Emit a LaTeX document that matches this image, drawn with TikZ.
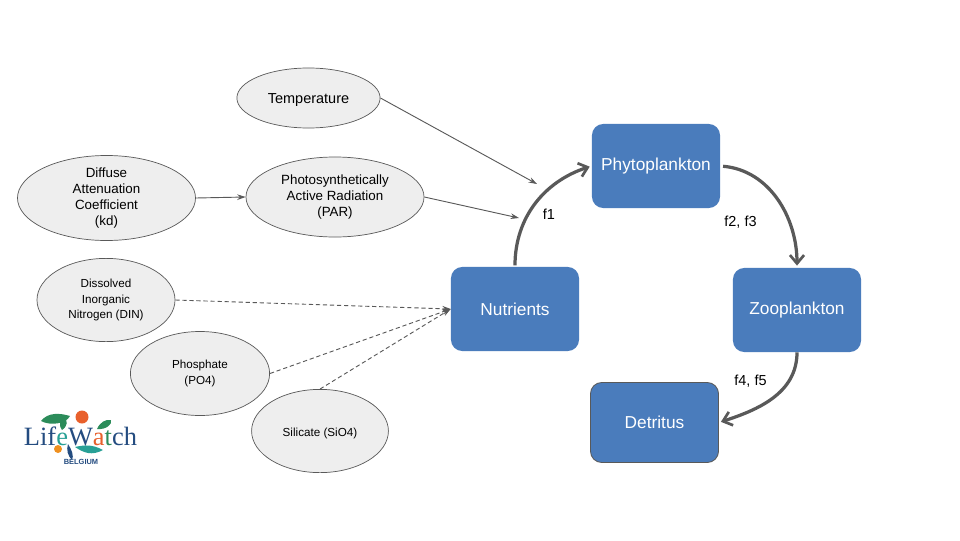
\documentclass[tikz,border=0pt]{standalone}
\usepackage{fontspec}
\setmainfont{Liberation Sans}
\newfontfamily\logofont{Liberation Serif}
\usepackage{xcolor}
\usetikzlibrary{arrows.meta,positioning,shapes.geometric}
\definecolor{boxc}{RGB}{74,124,188}
\definecolor{ovalc}{RGB}{238,238,238}
\definecolor{edgec}{RGB}{89,89,89}
\definecolor{logoblue}{RGB}{36,76,128}
\definecolor{logogreen}{RGB}{44,140,90}
\definecolor{logoteal}{RGB}{40,160,150}
\definecolor{logoorange}{RGB}{232,96,44}
\tikzset{
  oval/.style={ellipse,draw=edgec,fill=ovalc,inner sep=0pt,align=center,text=black,line width=0.5pt,
    execute at begin node={\rule{0pt}{10pt}}},
  stock/.style={draw=none,fill=boxc,rounded corners=8pt,text=white,font=\fontsize{12.3}{14}\selectfont,
    minimum width=3.2cm,minimum height=2.1cm,inner sep=0pt},
  flow/.style={-{Straight Barb[length=6pt,width=10pt,line width=1.9pt]},edgec,line width=2.3pt,shorten >=1.5pt},
  forcing/.style={-{Stealth[length=6pt,width=4pt]},edgec,line width=0.65pt},
  limit/.style={forcing,dashed,dash pattern=on 3pt off 2pt},
  lab/.style={font=\fontsize{10.3}{12}\selectfont,text=black}
}
\begin{document}
\begin{tikzpicture}[x=0.025cm,y=-0.025cm,font=\fontsize{9.5}{11.3}\selectfont]
\useasboundingbox (0,0) rectangle (960,540);
\fill[white] (0,0) rectangle (960,540);
% forcing variables
\node[oval,minimum width=3.58cm,minimum height=1.5cm,font=\fontsize{10.3}{12}\selectfont] (temp) at (308.5,98) {Temperature};
\node[oval,minimum width=4.45cm,minimum height=2.02cm] (kd) at (106.5,198) {Diffuse\\Attenuation\\Coefficient\\(kd)};
\node[oval,minimum width=4.45cm,minimum height=2cm] (par) at (335,197) {Photosynthetically\\Active Radiation\\(PAR)};
% nutrients forcing
\node[oval,minimum width=3.45cm,minimum height=2.08cm,font=\fontsize{8.3}{11.3}\selectfont] (din) at (106,300) {Dissolved\\Inorganic\\Nitrogen (DIN)};
\node[oval,minimum width=3.48cm,minimum height=2.1cm,font=\fontsize{8.3}{11.3}\selectfont] (po4) at (200,373.5) {Phosphate\\(PO4)};
\node[oval,minimum width=3.42cm,minimum height=2.08cm,font=\fontsize{8.3}{11.3}\selectfont] (sio4) at (320,431) {Silicate (SiO4)};
% state variables
\node[stock] (phy) at (656,166) {Phytoplankton};
\node[stock] (nut) at (515,309) {Nutrients};
\node[stock] (zoo) at (797,310) {Zooplankton};
\node[stock,draw=edgec,line width=0.6pt,minimum width=3.2cm,minimum height=2cm] (det) at (654.5,422.5) {Detritus};
% free ends on the f1 curve
\coordinate (tempend) at (537,184);
\coordinate (parend) at (519,218);
\draw[forcing] (temp.east) -- (tempend);
\draw[forcing] (par.east) -- (parend);
\draw[forcing] (kd.east) -- (par.west);
\draw[limit] (din.east) -- (nut.west);
\draw[limit] (po4.east) -- (nut.west);
\draw[limit] (sio4.north) -- (nut.west);
% fluxes
\draw[flow,shorten <=1pt] (nut.north) to[out=90,in=198] (phy.west);
\draw[flow,shorten <=2pt] (phy.east) to[out=-5,in=90] (zoo.north);
\draw[flow] (zoo.south) to[out=-90,in=18] (det.east);
\node[lab] (f1) at (549,214.5) {f1};
\node[lab] (f23) at (740.5,222.5) {f2, f3};
\node[lab] (f45) at (750.5,381) {f4, f5};
% logo
\fill[logogreen] (41,421) .. controls (48,412) and (60,413) .. (70,416) .. controls (66,424) and (50,426) .. (41,421) -- cycle;
\fill[logogreen] (62,430) .. controls (58,424) and (60,420) .. (64,418) .. controls (68,420) and (68,426) .. (62,430) -- cycle;
\fill[logogreen] (97,429) .. controls (100,422) and (106,419) .. (111,420) .. controls (113,424) and (106,430) .. (97,429) -- cycle;
\fill[logoorange] (82,417) circle (6.5);
\fill[logoorange!70!yellow] (58,449) circle (4);
\fill[logoteal] (75,447) .. controls (84,445) and (92,444) .. (103,450) .. controls (92,456) and (84,453) .. (75,447) -- cycle;
\fill[logoblue] (68,444) .. controls (72,450) and (74,456) .. (72,460) .. controls (68,456) and (66,450) .. (68,444) -- cycle;
\node[inner sep=0pt,font=\logofont\fontsize{18.8}{22}\selectfont,text=logoblue] (lifewatch) at (80.5,436) {Lif\textcolor{logoteal}{e}W\textcolor{logoorange}{a}\textcolor{logogreen}{t}ch};
\node[inner sep=0pt,font=\bfseries\fontsize{5.3}{6}\selectfont,text=logoblue] (belgium) at (81,462) {BELGIUM};
\end{tikzpicture}
\end{document}
